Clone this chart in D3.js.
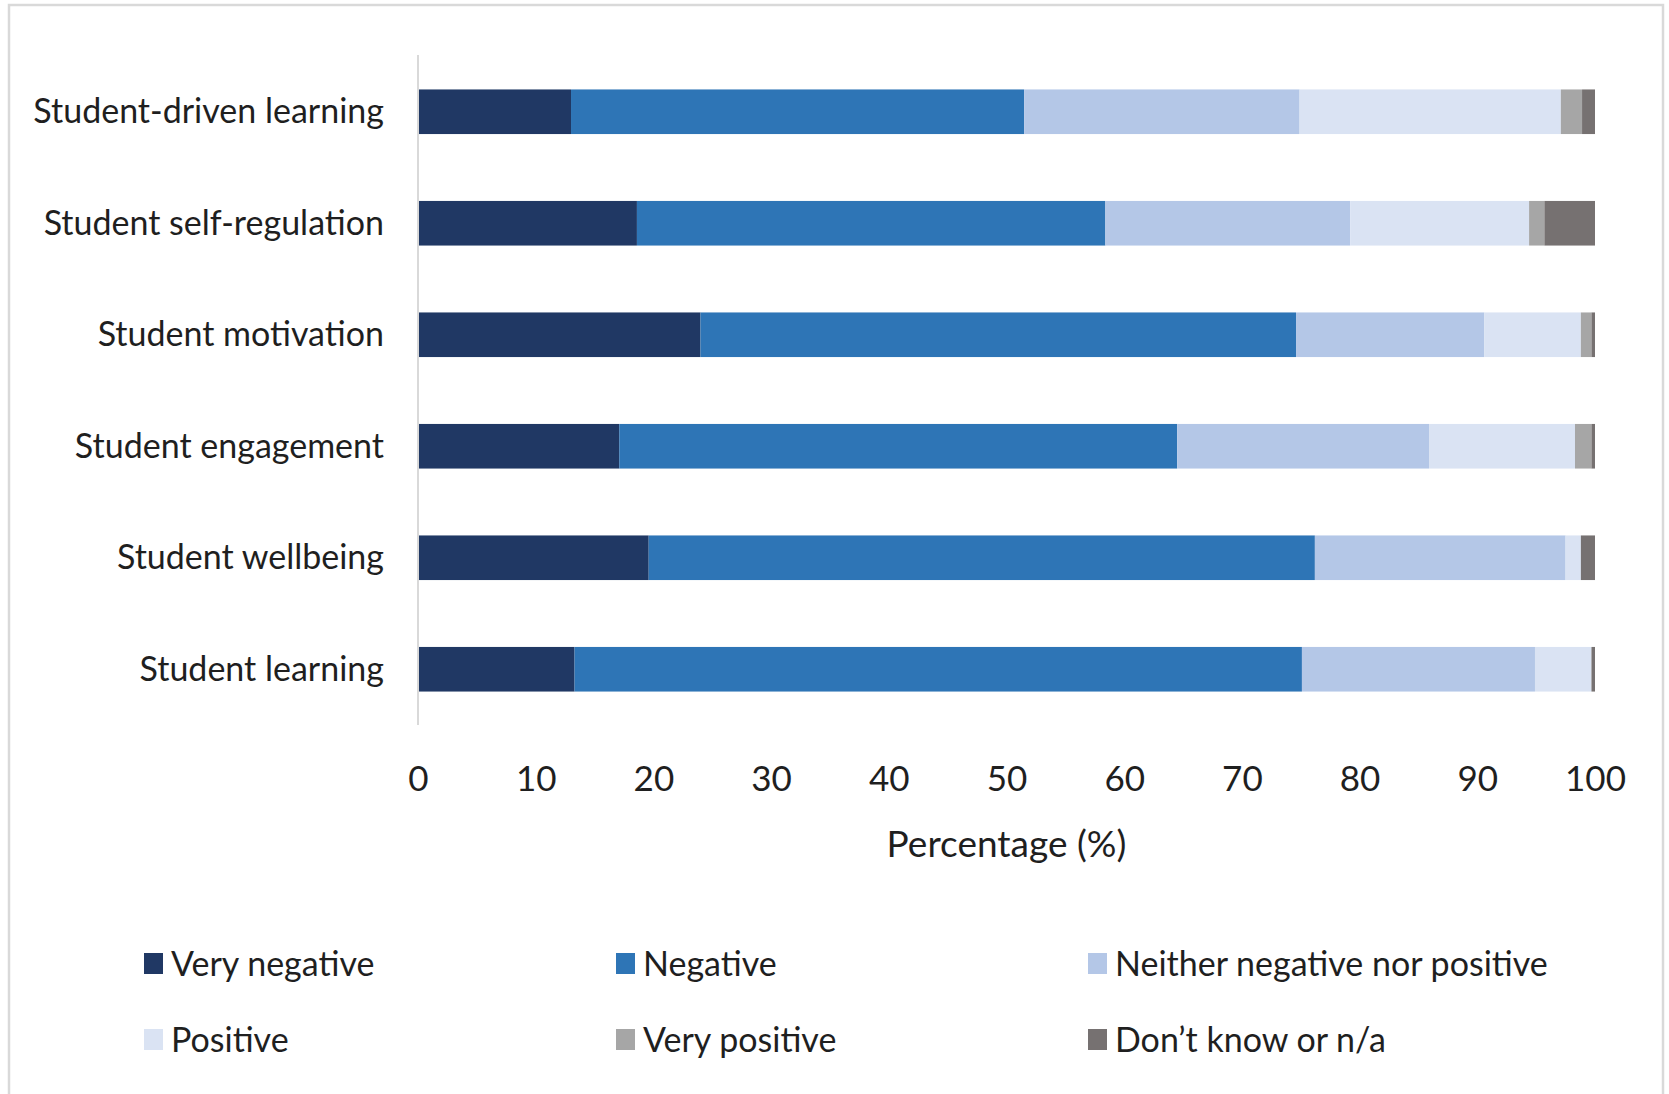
<!DOCTYPE html>
<meta charset="utf-8">
<script src="https://d3js.org/d3.v7.min.js"></script>
<style>
  body { margin: 0; background: #fff; }
  text { font-family: Lato, "Open Sans", sans-serif; fill: #1f1f1f; }
</style>
<div id="chart"></div>
<script>

// categories, top to bottom
var categories = ["Student-driven learning", "Student self-regulation", "Student motivation",
                  "Student engagement", "Student wellbeing", "Student learning"];

// response levels (stack order, left to right)
var levels = ["Very negative", "Negative", "Neither negative nor positive",
              "Positive", "Very positive", "Don\u2019t know or n/a"];

// percentage per level, one value per category
var veryNegative = [13.0, 18.6, 24.0, 17.1, 19.6, 13.3];
var negative     = [38.5, 39.8, 50.6, 47.4, 56.6, 61.8];
var neither      = [23.4, 20.8, 16.0, 21.4, 21.3, 19.8];
var positive     = [22.2, 15.2,  8.2, 12.4,  1.3,  4.8];
var veryPositive = [ 1.8,  1.3,  0.9,  1.4,  0.0,  0.0];
var dontKnow     = [ 1.1,  4.3,  0.3,  0.3,  1.2,  0.3];

var xTicks = [0, 10, 20, 30, 40, 50, 60, 70, 80, 90, 100];

var colours = ["#203864", "#2e75b6", "#b4c7e7", "#dae3f3", "#a6a6a6", "#767171"];

// build rows for the stack
var series = [veryNegative, negative, neither, positive, veryPositive, dontKnow];
var rows = categories.map(function(c, i) {
  var r = { cat: c };
  levels.forEach(function(l, j) { r[l] = series[j][i]; });
  return r;
});

var width = 1669, height = 1094;

var svg = d3.select("#chart")
  .append("svg")
    .attr("width", width)
    .attr("height", height);

// outer frame
svg.append("rect")
  .attr("x", 9).attr("y", 5)
  .attr("width", 1654).attr("height", 1100)
  .attr("fill", "none")
  .attr("stroke", "#d9d9d9")
  .attr("stroke-width", 2.5);

var x = d3.scaleLinear()
  .domain([0, 100])
  .range([418, 1595]);

var y = d3.scaleBand()
  .domain(categories)
  .range([56, 725])
  .paddingInner(0.6)
  .paddingOuter(0.3);

var stack = d3.stack().keys(levels)(rows);

// bars
svg.append("g")
  .selectAll("g")
  .data(stack)
  .enter()
  .append("g")
    .attr("fill", function(d, i) { return colours[i]; })
  .selectAll("rect")
  .data(function(d) { return d; })
  .enter()
  .append("rect")
    .attr("x", function(d) { return x(d[0]); })
    .attr("y", function(d) { return y(d.data.cat); })
    .attr("width", function(d) { return Math.max(0, x(d[1]) - x(d[0])); })
    .attr("height", y.bandwidth());

// y axis line (left)
svg.append("line")
  .attr("x1", x(0)).attr("x2", x(0))
  .attr("y1", 55).attr("y2", 725)
  .attr("stroke", "#d9d9d9")
  .attr("stroke-width", 2);

// category labels
svg.append("g")
  .selectAll("text")
  .data(categories)
  .enter()
  .append("text")
    .attr("x", 384)
    .attr("y", function(d) { return y(d) + y.bandwidth() / 2 - 2; })
    .attr("text-anchor", "end")
    .attr("dominant-baseline", "central")
    .style("font-size", "34px")
    .text(function(d) { return d; });

// x axis tick labels
var xAxis = d3.axisBottom(x).tickValues(xTicks).tickSize(0).tickPadding(0);
var gx = svg.append("g")
  .attr("transform", "translate(0,766)")
  .call(xAxis);
gx.select(".domain").remove();
gx.selectAll("text")
  .attr("font-family", null)
  .style("font-size", "35px")
  .attr("dy", "0.71em")
  .attr("y", 0);

// x axis title
svg.append("text")
  .attr("x", (x(0) + x(100)) / 2)
  .attr("y", 842)
  .attr("text-anchor", "middle")
  .attr("dominant-baseline", "central")
  .style("font-size", "37px")
  .text("Percentage (%)");

// legend, 3 columns x 2 rows
var legend = svg.append("g")
  .selectAll("g")
  .data(levels)
  .enter()
  .append("g")
    .attr("transform", function(d, i) {
      return "translate(" + (144 + (i % 3) * 472) + "," + (963 + Math.floor(i / 3) * 76) + ")";
    });

legend.append("rect")
  .attr("x", 0).attr("y", -10)
  .attr("width", 19).attr("height", 21)
  .attr("fill", function(d, i) { return colours[i]; });

legend.append("text")
  .attr("x", 27)
  .attr("y", -1)
  .attr("dominant-baseline", "central")
  .style("font-size", "34px")
  .text(function(d) { return d; });

</script>
